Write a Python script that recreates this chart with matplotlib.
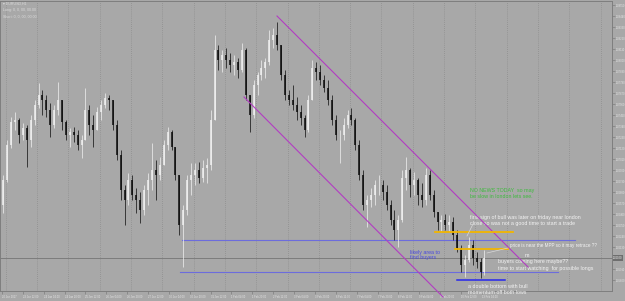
import numpy as np
import matplotlib.pyplot as plt

plt.rcParams['font.family'] = ['Liberation Sans', 'DejaVu Sans']

bg = '#A8A8A8'
col_frame = '#7E7E7E'
col_text = '#E6E6E6'
col_channel = '#B23CC2'
col_gold = '#F2B600'
col_level = '#6C6CDC'
col_bottom = '#2626EE'

first_open = 1.0655
high = [1.0685, 1.0720, 1.0743, 1.0748, 1.0742, 1.0737, 1.0735, 1.0745, 1.0760, 1.0777,
        1.0770, 1.0765, 1.0757, 1.0755, 1.0778, 1.0760, 1.0740, 1.0732, 1.0733, 1.0730,
        1.0725, 1.0772, 1.0755, 1.0745, 1.0753, 1.0760, 1.0767, 1.0765, 1.0760, 1.0740,
        1.0710, 1.0675, 1.0687, 1.0685, 1.0672, 1.0668, 1.0675, 1.0687, 1.0717, 1.0700,
        1.0703, 1.0720, 1.0733, 1.0730, 1.0713, 1.0685, 1.0655, 1.0685, 1.0697, 1.0697,
        1.0698, 1.0700, 1.0702, 1.0750, 1.0825, 1.0815, 1.0810, 1.0812, 1.0807, 1.0805,
        1.0802, 1.0817, 1.0812, 1.0765, 1.0780, 1.0788, 1.0800, 1.0802, 1.0830, 1.0832,
        1.0838, 1.0815, 1.0790, 1.0770, 1.0775, 1.0763, 1.0755, 1.0745, 1.0765, 1.0800,
        1.0798, 1.0795, 1.0785, 1.0780, 1.0765, 1.0745, 1.0730, 1.0742, 1.0750, 1.0752,
        1.0742, 1.0720, 1.0690, 1.0665, 1.0672, 1.0680, 1.0685, 1.0680, 1.0675, 1.0660,
        1.0650, 1.0645, 1.0690, 1.0703, 1.0692, 1.0688, 1.0682, 1.0677, 1.0692, 1.0690,
        1.0670, 1.0648, 1.0645, 1.0646, 1.0645, 1.0643, 1.0630, 1.0615, 1.0605, 1.0623,
        1.0620, 1.0608, 1.0602, 1.0610]
low = [1.0647, 1.0678, 1.0712, 1.0730, 1.0717, 1.0720, 1.0693, 1.0713, 1.0735, 1.0752,
       1.0745, 1.0743, 1.0723, 1.0732, 1.0745, 1.0730, 1.0720, 1.0713, 1.0718, 1.0710,
       1.0702, 1.0720, 1.0725, 1.0713, 1.0730, 1.0740, 1.0752, 1.0750, 1.0730, 1.0700,
       1.0660, 1.0635, 1.0655, 1.0660, 1.0647, 1.0637, 1.0645, 1.0655, 1.0670, 1.0660,
       1.0680, 1.0695, 1.0710, 1.0710, 1.0680, 1.0625, 1.0593, 1.0645, 1.0665, 1.0675,
       1.0677, 1.0678, 1.0677, 1.0690, 1.0740, 1.0790, 1.0788, 1.0792, 1.0788, 1.0785,
       1.0782, 1.0788, 1.0760, 1.0728, 1.0742, 1.0765, 1.0780, 1.0782, 1.0795, 1.0812,
       1.0810, 1.0780, 1.0760, 1.0755, 1.0750, 1.0740, 1.0735, 1.0723, 1.0728, 1.0760,
       1.0780, 1.0775, 1.0768, 1.0755, 1.0735, 1.0720, 1.0697, 1.0720, 1.0732, 1.0735,
       1.0710, 1.0680, 1.0650, 1.0633, 1.0653, 1.0655, 1.0665, 1.0660, 1.0650, 1.0635,
       1.0620, 1.0613, 1.0638, 1.0670, 1.0663, 1.0665, 1.0655, 1.0653, 1.0655, 1.0660,
       1.0643, 1.0630, 1.0628, 1.0630, 1.0628, 1.0620, 1.0608, 1.0588, 1.0583, 1.0598,
       1.0595, 1.0592, 1.0582, 1.0585]
close = [1.0680, 1.0715, 1.0738, 1.0740, 1.0725, 1.0732, 1.0720, 1.0740, 1.0755, 1.0765,
         1.0760, 1.0750, 1.0735, 1.0750, 1.0760, 1.0738, 1.0725, 1.0728, 1.0725, 1.0715,
         1.0720, 1.0750, 1.0735, 1.0730, 1.0748, 1.0755, 1.0762, 1.0760, 1.0735, 1.0705,
         1.0670, 1.0660, 1.0680, 1.0665, 1.0660, 1.0650, 1.0670, 1.0680, 1.0690, 1.0685,
         1.0695, 1.0715, 1.0728, 1.0713, 1.0685, 1.0635, 1.0650, 1.0680, 1.0685, 1.0690,
         1.0682, 1.0692, 1.0695, 1.0740, 1.0810, 1.0800, 1.0805, 1.0800, 1.0795, 1.0798,
         1.0790, 1.0810, 1.0765, 1.0745, 1.0775, 1.0785, 1.0792, 1.0798, 1.0820, 1.0825,
         1.0815, 1.0785, 1.0765, 1.0760, 1.0755, 1.0748, 1.0742, 1.0730, 1.0760, 1.0792,
         1.0788, 1.0780, 1.0772, 1.0760, 1.0740, 1.0725, 1.0725, 1.0735, 1.0745, 1.0740,
         1.0715, 1.0685, 1.0655, 1.0660, 1.0665, 1.0675, 1.0675, 1.0668, 1.0655, 1.0640,
         1.0630, 1.0640, 1.0682, 1.0690, 1.0675, 1.0680, 1.0665, 1.0660, 1.0685, 1.0665,
         1.0648, 1.0638, 1.0640, 1.0635, 1.0638, 1.0625, 1.0612, 1.0595, 1.0600, 1.0615,
         1.0602, 1.0598, 1.0588, 1.0602]

time_labels = ['20 Jan 2017', '23 Jan 12:00', '24 Jan 04:00', '24 Jan 20:00', '25 Jan 12:00',
               '26 Jan 04:00', '26 Jan 20:00', '27 Jan 12:00', '30 Jan 04:00', '30 Jan 20:00',
               '31 Jan 12:00', '1 Feb 04:00', '1 Feb 20:00', '2 Feb 12:00', '3 Feb 04:00',
               '3 Feb 20:00', '6 Feb 12:00', '7 Feb 04:00', '7 Feb 20:00', '8 Feb 12:00',
               '9 Feb 04:00', '9 Feb 20:00', '10 Feb 12:00', '13 Feb 04:00']

# drawn objects: (bar, price) pairs
channel_upper = [(210.9, 1.0844), (403.4, 1.0593)]
channel_lower = [(185.6, 1.0763), (338.2, 1.0563)]
gold_lines = [(332.1, 391.9, 1.0628), (347.4, 388.0, 1.0611)]
level_lines = [(138.0, 439.4, 1.0620), (136.5, 426.4, 1.0588)]
bottom_line = (348.9, 385.7, 1.0580)
bid = 1.0602
pointer_lines = [[(371.9, 1.0607), (388.0, 1.0612)], [(361.2, 1.0636), (356.6, 1.0624)]]

fig = plt.figure(figsize=(6.25, 3.01), dpi=100)
fig.patch.set_facecolor(bg)
ax = fig.add_axes([0, 10 / 301, 612 / 625, 290 / 301])
ax.set_facecolor(bg)
ax.set_xlim(-1.53, 467.8)
ax.set_ylim(1.0569, 1.0859)

# daily grid
for g in np.arange(3, 468, 24):
    ax.axvline(g, color='#8E8E8E', lw=0.6, ls=(0, (1, 1.5)), zorder=0)

ax.axhline(bid, color='#7C7C7C', lw=0.7, zorder=1)

# candles
high = np.array(high)
low = np.array(low)
close = np.array(close)
xb = 3 * np.arange(len(close)) + 1
opens = np.r_[first_open, close[:-1]]
colors = np.where(close >= opens, '#F2F2F2', '#0A0A0A')
ax.vlines(xb, low, high, colors=colors, lw=0.5, zorder=3)
ax.vlines(xb, np.minimum(opens, close), np.maximum(opens, close), colors=colors, lw=1.1, zorder=3)

# objects
for ln in [channel_upper, channel_lower]:
    ax.plot([ln[0][0], ln[1][0]], [ln[0][1], ln[1][1]], color=col_channel, lw=0.8, clip_on=False, zorder=4)
for x0, x1, p in level_lines:
    ax.plot([x0, x1], [p, p], color=col_level, lw=0.8, zorder=2)
for x0, x1, p in gold_lines:
    ax.plot([x0, x1], [p, p], color=col_gold, lw=1.3, zorder=4)
ax.plot(bottom_line[:2], [bottom_line[2]] * 2, color=col_bottom, lw=1.1, zorder=4)
for ln in pointer_lines:
    ax.plot([ln[0][0], ln[1][0]], [ln[0][1], ln[1][1]], color='#D8D8D8', lw=0.5, zorder=4)

# notes
fs = 3.8
ax.text(358.9, 1.0670, 'NO NEWS TODAY  so may', color='#3DBA3D', fontsize=fs, va='center')
ax.text(358.9, 1.0664, 'be slow in london lets see.', color='#3DBA3D', fontsize=fs, va='center')
ax.text(358.9, 1.0643, 'first sign of bull was later on friday near london', color='#F4F4F4', fontsize=fs, va='center')
ax.text(358.9, 1.0637, 'close so was not a good time to start a trade', color='#F4F4F4', fontsize=fs, va='center')
ax.text(389.6, 1.0615, 'price is near the MPP so it may retrace ??', color='#F4F4F4', fontsize=3.3, va='center')
ax.text(401.1, 1.0605, 'm', color='#F4F4F4', fontsize=fs, va='center')
ax.text(380.4, 1.0598, 'buyers coming here maybe??', color='#F4F4F4', fontsize=fs, va='center')
ax.text(380.4, 1.0592, 'time to start watching  for possible longs', color='#F4F4F4', fontsize=fs, va='center')
ax.text(312.9, 1.0608, 'likely area to', color='#4848E0', fontsize=fs, va='center')
ax.text(312.9, 1.0602, 'find buyers', color='#4848E0', fontsize=fs, va='center')
ax.text(357.4, 1.0574, 'a double bottom with bull', color='#F4F4F4', fontsize=fs, va='center')
ax.text(357.4, 1.0568, 'momentum off both lows', color='#F4F4F4', fontsize=fs, va='center')

fig.text(3 / 625, 1 - 4 / 301, '\u25be EURUSD,H1', color='#DCDCDC', fontsize=2.6, va='center')
fig.text(3 / 625, 1 - 10.5 / 301, 'Long: 0, 0, 00, 00.00', color='#DCDCDC', fontsize=2.6, va='center')
fig.text(3 / 625, 1 - 17 / 301, 'Short: 0, 0, 00, 00.00', color='#DCDCDC', fontsize=2.6, va='center')

# axes styling
for s in ax.spines.values():
    s.set_color(col_frame)
    s.set_linewidth(0.7)
ax.set_xticks(16 * np.arange(len(time_labels)))
ax.set_xticklabels(time_labels)
plt.setp(ax.get_xticklabels(), ha='left')
ax.yaxis.tick_right()
yt = 1.0855 - 0.0011 * np.arange(26)
ax.set_yticks(yt)
ax.set_yticklabels(['' if abs(v - bid) < 0.0006 else '%.5f' % v for v in yt])
ax.tick_params(axis='both', colors=col_frame, labelcolor=col_text, labelsize=1.9,
               length=2, width=0.5, pad=1)
ax.text(1.002, bid, '%.5f' % bid, transform=ax.get_yaxis_transform(), fontsize=1.9,
        color='white', va='center', ha='left',
        bbox=dict(boxstyle='square,pad=0.25', fc='#6E6E6E', ec='none'), zorder=6)

plt.savefig('out.png', dpi=100, facecolor=bg)
